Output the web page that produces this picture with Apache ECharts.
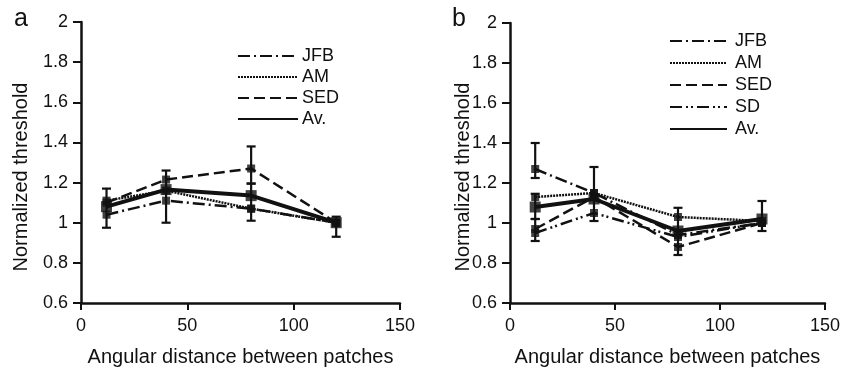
<!DOCTYPE html>
<html><head><meta charset="utf-8">
<script src="https://cdn.jsdelivr.net/npm/echarts@6/dist/echarts.min.js"></script>
<style>html,body{margin:0;padding:0;background:#fff}#c{width:843px;height:372px}</style>
</head><body><div id="c"></div>
<script>
var xs = [12, 40, 80, 120];
var xTicks = [0, 50, 100, 150];
var yTicks = [0.6, 0.8, 1, 1.2, 1.4, 1.6, 1.8, 2];

var jfbA = [1.04, 1.11, 1.07, 1.00];
var amA  = [1.11, 1.16, 1.07, 1.00];
var sedA = [1.10, 1.215, 1.27, 1.00];
var avA  = [1.08, 1.165, 1.135, 1.00];

var jfbB = [1.27, 1.15, 0.94, 1.00];
var amB  = [1.13, 1.15, 1.03, 1.01];
var sedB = [0.97, 1.13, 0.88, 1.00];
var sdB  = [0.95, 1.05, 0.93, 1.00];
var avB  = [1.08, 1.12, 0.96, 1.02];

// error bars: x, low, high
var errAx  = [12, 40, 80, 80, 120];
var errAlo = [0.975, 1.00, 1.01, 1.195, 0.93];
var errAhi = [1.17, 1.26, 1.195, 1.38, 1.03];
var errBx  = [12, 12, 12, 40, 80, 120];
var errBlo = [1.225, 1.02, 0.91, 1.01, 0.84, 0.96];
var errBhi = [1.40, 1.146, 1.02, 1.28, 1.076, 1.11];

var styles = {
  'JFB': {type: [12, 4, 2, 4], width: 2.5},
  'AM':  {type: [2, 1], width: 2.5},
  'SED': {type: [11, 5], width: 2.5},
  'SD':  {type: [12, 4, 2, 3, 2, 4], width: 2.5},
  'Av.': {type: 'solid', width: 4}
};

function pairs(vals) { return xs.map(function (x, i) { return [x, vals[i]]; }); }

function lineSeries(name, vals, idx) {
  return {
    type: 'line', name: name, xAxisIndex: idx, yAxisIndex: idx,
    data: pairs(vals), symbol: 'none', z: 3,
    lineStyle: {color: '#111', width: styles[name].width, type: styles[name].type}
  };
}
function markSeries(vals, idx, size) {
  return {
    type: 'scatter', xAxisIndex: idx, yAxisIndex: idx, data: pairs(vals),
    symbol: 'rect', symbolSize: size, itemStyle: {color: '#111'}, z: 4, silent: true
  };
}
function errSeries(ex, lo, hi, idx) {
  return {
    type: 'custom', xAxisIndex: idx, yAxisIndex: idx, z: 5, silent: true,
    data: ex.map(function (x, i) { return [x, lo[i], hi[i]]; }),
    renderItem: function (params, api) {
      var p1 = api.coord([api.value(0), api.value(1)]);
      var p2 = api.coord([api.value(0), api.value(2)]);
      var w = 4.5;
      var st = {stroke: '#111', lineWidth: 2.2};
      return {type: 'group', children: [
        {type: 'line', shape: {x1: p1[0], y1: p1[1], x2: p2[0], y2: p2[1]}, style: st},
        {type: 'line', shape: {x1: p1[0] - w, y1: p1[1], x2: p1[0] + w, y2: p1[1]}, style: st},
        {type: 'line', shape: {x1: p2[0] - w, y1: p2[1], x2: p2[0] + w, y2: p2[1]}, style: st}
      ]};
    }
  };
}

var font = 'Liberation Sans, Arial, sans-serif';
function xAxis(idx) {
  return {
    type: 'value', gridIndex: idx, min: 0, max: 150, interval: 50,
    axisLine: {lineStyle: {color: '#111', width: 2.5}},
    axisTick: {show: true, length: 7, lineStyle: {color: '#111', width: 2}},
    axisLabel: {color: '#111', fontSize: 18, fontFamily: font, margin: 14},
    splitLine: {show: false},
    name: 'Angular distance between patches', nameLocation: 'middle', nameGap: 44,
    nameTextStyle: {color: '#111', fontSize: 20, fontFamily: font}
  };
}
function yAxis(idx) {
  return {
    type: 'value', gridIndex: idx, min: 0.6, max: 2, interval: 0.2,
    axisLine: {show: true, lineStyle: {color: '#111', width: 2.5}},
    axisTick: {show: true, length: 8, lineStyle: {color: '#111', width: 2}},
    axisLabel: {color: '#111', fontSize: 18, fontFamily: font, margin: 13,
      formatter: function (v) { return String(Math.round(v * 10) / 10); }},
    splitLine: {show: false}
  };
}
function legend(left, top, names, gap, w, pad) {
  return {
    left: left, top: top, orient: 'vertical', itemWidth: w, itemHeight: 14, itemGap: gap,
    data: names, selectedMode: false,
    itemStyle: {color: 'rgba(0,0,0,0)', borderColor: 'rgba(0,0,0,0)', borderWidth: 0},
    textStyle: {color: '#111', fontSize: 18, fontFamily: font, padding: [0, 0, 0, pad]}
  };
}

var series = [
  lineSeries('JFB', jfbA, 0), lineSeries('AM', amA, 0), lineSeries('SED', sedA, 0), lineSeries('Av.', avA, 0),
  markSeries(jfbA, 0, 8), markSeries(amA, 0, 8), markSeries(sedA, 0, 8), markSeries(avA, 0, 11),
  errSeries(errAx, errAlo, errAhi, 0),
  lineSeries('JFB', jfbB, 1), lineSeries('AM', amB, 1), lineSeries('SED', sedB, 1), lineSeries('SD', sdB, 1), lineSeries('Av.', avB, 1),
  markSeries(jfbB, 1, 8), markSeries(amB, 1, 8), markSeries(sedB, 1, 8), markSeries(sdB, 1, 8), markSeries(avB, 1, 11),
  errSeries(errBx, errBlo, errBhi, 1)
];

var chart = echarts.init(document.getElementById('c'), null, {renderer: 'canvas'});
chart.setOption({
  backgroundColor: '#fff',
  animation: false,
  grid: [
    {left: 81, top: 22, width: 319, height: 282},
    {left: 510, top: 23, width: 318, height: 282}
  ],
  xAxis: [xAxis(0), xAxis(1)],
  yAxis: [yAxis(0), yAxis(1)],
  legend: [
    legend(232, 42, ['JFB', 'AM', 'SED', 'Av.'], 3, 60, -1),
    legend(664, 27, ['JFB', 'AM', 'SED', 'SD', 'Av.'], 4, 57, 3)
  ],
  graphic: [
    {type: 'text', left: 14, top: 7, style: {text: 'a', fontSize: 25, fontFamily: font, fill: '#111'}},
    {type: 'text', left: 452, top: 7, style: {text: 'b', fontSize: 25, fontFamily: font, fill: '#111'}},
    {type: 'text', x: 21, y: 177, rotation: Math.PI / 2,
      style: {text: 'Normalized threshold', fontSize: 20, fontFamily: font, fill: '#111', align: 'center', verticalAlign: 'middle'}},
    {type: 'text', x: 463, y: 177, rotation: Math.PI / 2,
      style: {text: 'Normalized threshold', fontSize: 20, fontFamily: font, fill: '#111', align: 'center', verticalAlign: 'middle'}}
  ],
  series: series
});
</script></body></html>
